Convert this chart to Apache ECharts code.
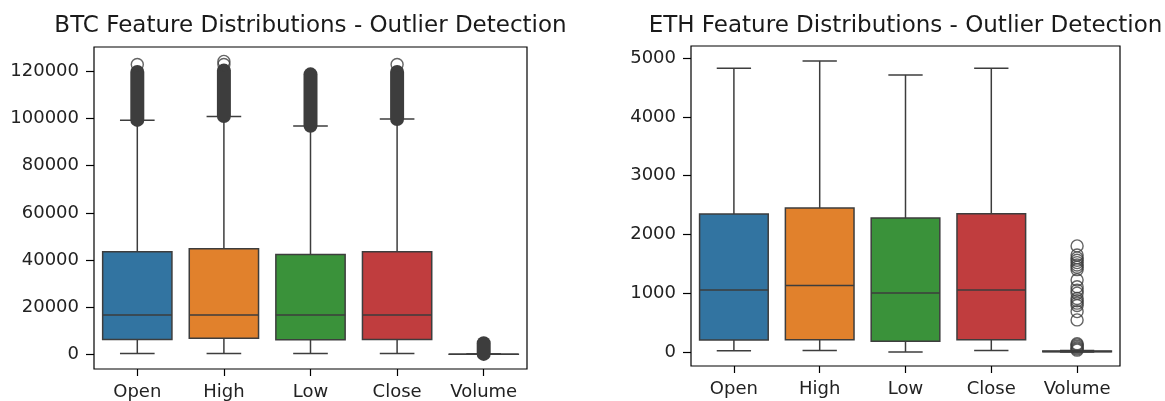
<!DOCTYPE html>
<html><head><meta charset="utf-8">
<script src="https://cdn.jsdelivr.net/npm/echarts@6/dist/echarts.min.js"></script>
<style>html,body{margin:0;padding:0;background:#fff}#c{width:1165px;height:401px}</style>
</head><body><div id="c"></div>
<script>
// ---------- data ----------
const categories = ['Open', 'High', 'Low', 'Close', 'Volume'];
// each: [lower whisker, Q1, median, Q3, upper whisker]
const btcOpen   = [420, 6330, 16710, 43460, 99280];
const btcHigh   = [420, 6880, 16710, 44730, 100890];
const btcLow    = [420, 6160, 16710, 42320, 96800];
const btcClose  = [420, 6330, 16710, 43460, 99740];
const btcVolume = [0, 10, 30, 90, 210];
// dense outlier runs: [category index, lowest outlier, highest outlier of the run]
const btcOutlierRuns = [[0, 99400, 119700], [1, 101000, 120300], [2, 96900, 118700], [3, 99800, 119700], [4, 200, 4700]];
// isolated outliers: [category index, value]
const btcOutliers = [[0, 122900], [1, 122900], [1, 124200], [3, 122900]];
const btcTicks = [0, 20000, 40000, 60000, 80000, 100000, 120000];

const ethOpen   = [20, 204, 1055, 2349, 4830];
const ethHigh   = [22, 209, 1129, 2451, 4954];
const ethLow    = [0, 182, 1004, 2281, 4716];
const ethClose  = [22, 209, 1055, 2354, 4830];
const ethVolume = [0, 3, 8, 15, 25];
const ethOutliers = [[4, 1805], [4, 1650], [4, 1600], [4, 1560], [4, 1520], [4, 1480], [4, 1440], [4, 1400],
  [4, 1226], [4, 1110], [4, 1050], [4, 1000], [4, 910], [4, 870], [4, 830], [4, 790], [4, 686], [4, 545],
  [4, 30], [4, 50], [4, 70], [4, 95], [4, 120], [4, 140]];
const ethTicks = [0, 1000, 2000, 3000, 4000, 5000];

// ---------- styles ----------
const PALETTE = ['#3274a1', '#e1812c', '#3a923a', '#c03d3e', '#9372b2'];
const EDGE = '#3d3d3d';
const FONT = 'DejaVu Sans';

const btcBoxes = [btcOpen, btcHigh, btcLow, btcClose, btcVolume].map((v, i) => [i].concat(v));
const ethBoxes = [ethOpen, ethHigh, ethLow, ethClose, ethVolume].map((v, i) => [i].concat(v));

function boxRender(params, api) {
  const i = api.value(0);
  const x = api.coord([i, 0])[0];
  const band = api.size([1, 0])[0];
  const bw = band * 0.8, cw = bw / 2;
  const y = k => api.coord([i, api.value(k)])[1];
  const yMin = y(1), yQ1 = y(2), yMed = y(3), yQ3 = y(4), yMax = y(5);
  const st = { stroke: EDGE, lineWidth: 1.5, fill: null };
  return { type: 'group', children: [
    { type: 'line', shape: { x1: x, y1: yQ3, x2: x, y2: yMax }, style: st },
    { type: 'line', shape: { x1: x, y1: yQ1, x2: x, y2: yMin }, style: st },
    { type: 'line', shape: { x1: x - cw / 2, y1: yMax, x2: x + cw / 2, y2: yMax }, style: st },
    { type: 'line', shape: { x1: x - cw / 2, y1: yMin, x2: x + cw / 2, y2: yMin }, style: st },
    { type: 'rect', shape: { x: x - bw / 2, y: yQ3, width: bw, height: Math.max(yQ1 - yQ3, 0) },
      style: { fill: PALETTE[i], stroke: EDGE, lineWidth: 1.5 } },
    { type: 'line', shape: { x1: x - bw / 2, y1: yMed, x2: x + bw / 2, y2: yMed }, style: st }
  ]};
}
function runRender(params, api) {
  const i = api.value(0);
  const x = api.coord([i, 0])[0];
  const yLo = api.coord([i, api.value(1)])[1];
  const yHi = api.coord([i, api.value(2)])[1];
  const r = 7;
  return { type: 'rect', shape: { x: x - r, y: yHi - r, width: 2 * r, height: (yLo - yHi) + 2 * r, r: r },
    style: { fill: EDGE } };
}

function xAxis(g) {
  return { gridIndex: g, type: 'category', data: categories,
    axisLine: { show: false, onZero: false },
    axisTick: { show: true, alignWithLabel: true, length: 7, lineStyle: { color: '#000', width: 1.2 } },
    axisLabel: { interval: 0, fontSize: 18, color: '#222', margin: 14, fontFamily: FONT },
    splitLine: { show: false } };
}
function yAxis(g, min, max, ticks) {
  return { gridIndex: g, type: 'value', min: min, max: max,
    axisLine: { show: false },
    axisTick: { show: true, length: 8, customValues: ticks, lineStyle: { color: '#000', width: 1.2 } },
    axisLabel: { customValues: ticks, fontSize: 18, color: '#222', margin: 15, fontFamily: FONT,
      formatter: v => String(v) },
    splitLine: { show: false } };
}
const titleStyle = { fontSize: 23, fontWeight: 'normal', color: '#1a1a1a', fontFamily: FONT };
const scatterStyle = { color: 'rgba(0,0,0,0)', borderColor: EDGE, borderWidth: 1.4 };

const chart = echarts.init(document.getElementById('c'), null, { renderer: 'canvas' });
chart.setOption({
  animation: false,
  backgroundColor: '#fff',
  title: [
    { text: 'BTC Feature Distributions - Outlier Detection', left: 305.5, top: 10, textAlign: 'center', textStyle: titleStyle },
    { text: 'ETH Feature Distributions - Outlier Detection', left: 900.5, top: 10, textAlign: 'center', textStyle: titleStyle }
  ],
  grid: [
    { left: 94, top: 47, width: 433, height: 323, show: true, borderColor: '#000', borderWidth: 1.2 },
    { left: 691, top: 46, width: 429, height: 320, show: true, borderColor: '#000', borderWidth: 1.2 }
  ],
  xAxis: [xAxis(0), xAxis(1)],
  yAxis: [yAxis(0, -6200, 130300, btcTicks), yAxis(1, -240, 5208, ethTicks)],
  series: [
    { type: 'custom', xAxisIndex: 0, yAxisIndex: 0, data: btcBoxes, renderItem: boxRender, encode: { x: 0, y: [1, 2, 3, 4, 5] } },
    { type: 'custom', xAxisIndex: 0, yAxisIndex: 0, data: btcOutlierRuns, renderItem: runRender, encode: { x: 0, y: [1, 2] } },
    { type: 'scatter', xAxisIndex: 0, yAxisIndex: 0, data: btcOutliers, symbol: 'circle', symbolSize: 12, itemStyle: scatterStyle },
    { type: 'custom', xAxisIndex: 1, yAxisIndex: 1, data: ethBoxes, renderItem: boxRender, encode: { x: 0, y: [1, 2, 3, 4, 5] } },
    { type: 'scatter', xAxisIndex: 1, yAxisIndex: 1, data: ethOutliers, symbol: 'circle', symbolSize: 12, itemStyle: scatterStyle }
  ]
});
</script>
</body></html>
